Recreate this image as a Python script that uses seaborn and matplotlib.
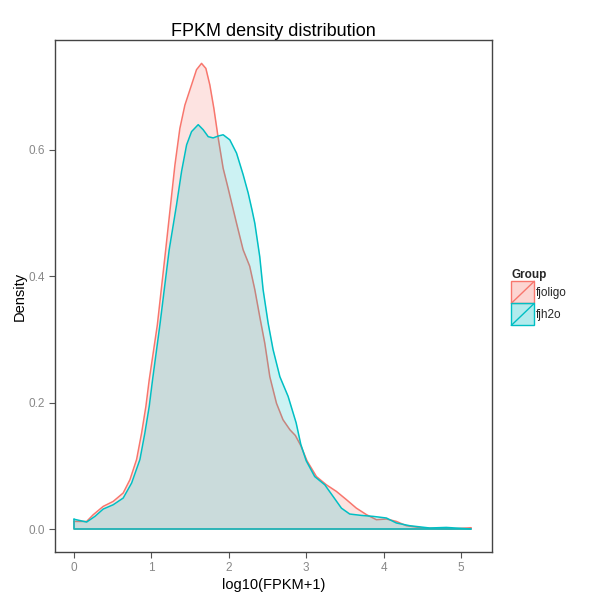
import numpy as np
import pandas as pd
import matplotlib
matplotlib.use("Agg")
import matplotlib.pyplot as plt
import seaborn as sns
from matplotlib.patches import Rectangle, Patch
from matplotlib.lines import Line2D
from matplotlib.legend_handler import HandlerBase

# ---- data ----
groups = ["fjoligo", "fjh2o"]
colors = ["#F8766D", "#00BFC4"]

x_fjoligo = [0.000, 0.164, 0.249, 0.378, 0.507, 0.636, 0.723, 0.809, 0.874, 0.929,
             0.972, 1.077, 1.185, 1.248, 1.304, 1.368, 1.433, 1.519, 1.583, 1.648,
             1.704, 1.755, 1.807, 1.863, 1.927, 1.990, 2.100, 2.185, 2.270, 2.336,
             2.400, 2.465, 2.530, 2.616, 2.700, 2.790, 2.860, 2.930, 3.010, 3.132,
             3.260, 3.390, 3.520, 3.648, 3.780, 3.907, 4.036, 4.165, 4.294, 4.510,
             4.853, 5.130]
y_fjoligo = [0.012, 0.012, 0.0226, 0.0358, 0.0437, 0.057, 0.078, 0.110, 0.152, 0.194,
             0.236, 0.323, 0.442, 0.513, 0.576, 0.634, 0.671, 0.703, 0.727, 0.737,
             0.729, 0.703, 0.666, 0.619, 0.571, 0.540, 0.484, 0.442, 0.416, 0.379,
             0.336, 0.294, 0.241, 0.199, 0.173, 0.157, 0.148, 0.132, 0.108, 0.083,
             0.070, 0.0595, 0.0464, 0.033, 0.0226, 0.0147, 0.0158, 0.012, 0.0052, 0.0016,
             0.000, 0.002]

x_fjh2o = [0.000, 0.164, 0.271, 0.378, 0.507, 0.636, 0.745, 0.852, 0.916, 0.972,
           1.015, 1.110, 1.230, 1.325, 1.390, 1.455, 1.519, 1.605, 1.669, 1.734,
           1.798, 1.863, 1.927, 2.013, 2.100, 2.185, 2.250, 2.300, 2.336, 2.400,
           2.443, 2.508, 2.572, 2.660, 2.766, 2.870, 2.930, 3.000, 3.110, 3.240,
           3.347, 3.455, 3.562, 3.713, 3.863, 4.036, 4.165, 4.337, 4.595, 4.810,
           5.130]
y_fjh2o = [0.0155, 0.011, 0.020, 0.0316, 0.0384, 0.049, 0.0728, 0.110, 0.152, 0.194,
           0.236, 0.323, 0.442, 0.513, 0.566, 0.608, 0.629, 0.640, 0.632, 0.621,
           0.619, 0.622, 0.624, 0.616, 0.595, 0.561, 0.532, 0.505, 0.484, 0.431,
           0.379, 0.326, 0.284, 0.241, 0.210, 0.168, 0.134, 0.108, 0.083, 0.070,
           0.0516, 0.033, 0.0237, 0.0215, 0.020, 0.0174, 0.0095, 0.0052, 0.0016, 0.0025,
           0.000]

x_ticks = [0, 1, 2, 3, 4, 5]
y_ticks = [0.0, 0.2, 0.4, 0.6]

df = pd.concat([
    pd.DataFrame({"x": x_fjoligo, "density": y_fjoligo, "Group": "fjoligo"}),
    pd.DataFrame({"x": x_fjh2o, "density": y_fjh2o, "Group": "fjh2o"}),
], ignore_index=True)

# ---- style ----
sns.set_theme(style="white")
plt.rcParams["font.family"] = ["Liberation Sans", "DejaVu Sans"]

fig = plt.figure(figsize=(6, 6), dpi=100)
ax = fig.add_axes([55 / 600, 48 / 600, 437 / 600, 512 / 600])

z = 1
for g, c in zip(groups, colors):
    sub = df[df["Group"] == g]
    xs = sub["x"].to_numpy()
    ys = sub["density"].to_numpy()
    ax.fill_between(xs, 0, ys, color=c, alpha=0.2, linewidth=0, zorder=z)
    sns.lineplot(data=sub, x="x", y="density", color=c, sort=False, estimator=None,
                 linewidth=1.1, ax=ax, zorder=z + 1, legend=False)
    # close the polygon like ggplot's geom_density outline
    ax.plot([xs[0], xs[0], xs[-1], xs[-1]], [ys[0], 0, 0, ys[-1]], color=c,
            linewidth=1.1, zorder=z + 1)
    z += 2

ax.set_xlim(-0.245, 5.40)
ax.set_ylim(-0.0364, 0.774)
ax.set_xticks(x_ticks)
ax.set_xticklabels([str(t) for t in x_ticks])
ax.set_yticks(y_ticks)
ax.set_yticklabels([f"{t:.1f}" for t in y_ticks])

ax.tick_params(axis="both", which="both", direction="out", length=4, width=0.8,
               color="#555555", labelcolor="#888888", labelsize=8.5, pad=3,
               bottom=True, left=True)
for s in ax.spines.values():
    s.set_color("#444444")
    s.set_linewidth(1.0)

ax.set_title("FPKM density distribution", fontsize=13, color="black", pad=3)
ax.set_xlabel("log10(FPKM+1)", fontsize=10.5, color="black", labelpad=3)
ax.set_ylabel("Density", fontsize=10.5, color="black", labelpad=1.5)
ax.grid(False)


class DiagHandler(HandlerBase):
    def create_artists(self, legend, orig_handle, xdescent, ydescent, width, height,
                       fontsize, trans):
        fc = orig_handle.get_facecolor()
        ec = orig_handle.get_edgecolor()
        r = Rectangle((-xdescent, -ydescent), width, height, facecolor=fc,
                      edgecolor=ec, linewidth=1.0, transform=trans)
        l = Line2D([-xdescent, -xdescent + width], [-ydescent, -ydescent + height],
                   color=ec, linewidth=1.0, transform=trans)
        return [r, l]


handles = [Patch(facecolor=matplotlib.colors.to_rgba(c, 0.3), edgecolor=c) for c in colors]
leg = fig.legend(handles, groups, loc="upper left", bbox_to_anchor=(503 / 600, 1 - 261 / 600),
                 frameon=False, fontsize=8.5, title="Group",
                 title_fontproperties={"weight": "bold", "size": 8.5},
                 handler_map={Patch: DiagHandler()}, handlelength=1.95, handleheight=2.5,
                 labelspacing=0.0, handletextpad=0.1, borderpad=0.2)
leg._legend_box.align = "left"

fig.savefig("out.png", dpi=100, facecolor="white")
